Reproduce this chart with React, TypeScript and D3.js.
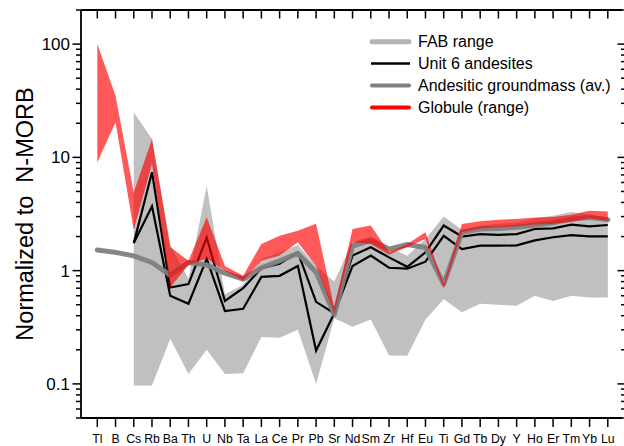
import React from "react";
import * as d3 from "d3";

const elements = ["Tl","B","Cs","Rb","Ba","Th","U","Nb","Ta","La","Ce","Pr","Pb","Sr","Nd","Sm","Zr","Hf","Eu","Ti","Gd","Tb","Dy","Y","Ho","Er","Tm","Yb","Lu"];

const fabUpper = [null, null, 25, 14.5, 1.7, 0.85, 5.6, 0.62, 0.75, 1.27, 1.45, 1.68, 1.1, 0.8, 1.8, 2.0, 1.6, 1.35, 1.9, 3.0, 2.3, 2.5, 2.6, 2.65, 2.9, 3.05, 3.3, 3.15, 2.95];
const fabLower = [null, null, 0.097, 0.097, 0.25, 0.122, 0.2, 0.122, 0.124, 0.26, 0.255, 0.3, 0.1, 0.38, 0.32, 0.37, 0.178, 0.177, 0.37, 0.56, 0.43, 0.51, 0.5, 0.49, 0.6, 0.54, 0.6, 0.58, 0.58];

const globuleUpper = [100, 35, 4.9, 14.5, 1.62, 1.22, 2.96, 1.1, 0.9, 1.72, 2.03, 2.25, 2.6, 0.47, 2.33, 2.5, 1.45, 1.72, 2.18, 0.76, 2.58, 2.73, 2.82, 2.86, 2.95, 2.98, 3.12, 3.38, 3.32];
const globuleLower = [9.0, 20.4, 2.3, 8.8, 0.71, 1.12, 1.28, 1.0, 0.82, 1.22, 1.36, 1.78, 1.1, 0.42, 1.78, 1.72, 1.38, 1.62, 1.9, 0.7, 2.18, 2.36, 2.41, 2.46, 2.55, 2.58, 2.7, 2.9, 2.76];

const groundmass = [1.52, 1.45, 1.35, 1.18, 0.91, 1.18, 1.12, 0.95, 0.84, 1.06, 1.22, 1.42, 0.97, 0.41, 1.65, 1.85, 1.55, 1.7, 1.6, 0.76, 2.18, 2.33, 2.36, 2.41, 2.52, 2.65, 2.85, 2.95, 2.82];

const unit6A = [null, null, 1.75, 7.4, 0.71, 0.76, 1.95, 0.54, 0.7, 1.05, 1.15, 1.45, 0.53, 0.42, 1.36, 1.61, 1.31, 1.08, 1.45, 2.5, 2.0, 2.1, 2.07, 2.1, 2.33, 2.36, 2.55, 2.46, 2.53];
const unit6B = [null, null, 1.75, 3.7, 0.6, 0.51, 1.27, 0.44, 0.46, 0.88, 0.9, 1.1, 0.197, 0.42, 1.1, 1.36, 1.06, 1.04, 1.2, 2.03, 1.55, 1.66, 1.66, 1.67, 1.85, 1.97, 2.06, 2.01, 2.01];

const yMajorLabels = [0.1, 1, 10, 100];

const legendItems = [
  { label: "FAB range", color: "#b4b4b4", width: 5, cap: "round" },
  { label: "Unit 6 andesites", color: "#000000", width: 2.5, cap: "butt" },
  { label: "Andesitic groundmass (av.)", color: "#808080", width: 4, cap: "round" },
  { label: "Globule (range)", color: "#ff0000", width: 4, cap: "round" },
];

const FONT = "'Liberation Sans', Arial, Helvetica, sans-serif";

export default function App() {
  const W = 624, H = 446;
  const left = 81, right = 622, top = 10, bottom = 418;
  const x = d3.scalePoint<string>().domain(elements).range([97.3, 607.8]);
  const y = d3.scaleLog().domain([0.05, 200]).range([bottom, top]);

  const px = (i: number) => x(elements[i]) as number;

  const area = (hi: (number | null)[], lo: (number | null)[]) =>
    d3.area<number>()
      .defined((i) => hi[i] != null && lo[i] != null)
      .x((i) => px(i))
      .y0((i) => y(lo[i] as number))
      .y1((i) => y(hi[i] as number))(elements.map((_, i) => i)) || "";

  const line = (v: (number | null)[]) =>
    d3.line<number>()
      .defined((i) => v[i] != null)
      .x((i) => px(i))
      .y((i) => y(v[i] as number))(elements.map((_, i) => i)) || "";

  const yTicks = y.ticks();
  const isMajor = (t: number) => Math.abs(Math.log10(t) - Math.round(Math.log10(t))) < 1e-9;
  const rightX = 626;

  return (
    <svg width={W} height={H} style={{ position: "absolute", left: 0, top: 0, background: "#fff" }} fontFamily={FONT}>
      {/* FAB range */}
      <path d={area(fabUpper, fabLower)} fill="#c0c0c0" stroke="none" />
      {/* Unit 6 andesites */}
      <path d={line(unit6A)} fill="none" stroke="#000" strokeWidth={2.2} strokeLinejoin="miter" />
      <path d={line(unit6B)} fill="none" stroke="#000" strokeWidth={2.2} strokeLinejoin="miter" />
      {/* Groundmass */}
      <path d={line(groundmass)} fill="none" stroke="#7f7f7f" strokeWidth={5} strokeLinejoin="round" strokeLinecap="round" opacity={0.95} />
      {/* Globule range */}
      <path d={area(globuleUpper, globuleLower)} fill="#ff0000" fillOpacity={0.65} stroke="none" />

      {/* frame */}
      <line x1={left} x2={left} y1={top} y2={bottom} stroke="#000" strokeWidth={1.8} />
      <line x1={left} x2={right} y1={top} y2={top} stroke="#000" strokeWidth={1.8} />
      <line x1={left} x2={right} y1={bottom} y2={bottom} stroke="#000" strokeWidth={1.8} />

      {/* y ticks */}
      {yTicks.map((t, k) => {
        const yy = y(t);
        const len = isMajor(t) ? 8.5 : 5;
        return (
          <g key={k}>
            <line x1={left - len} x2={left} y1={yy} y2={yy} stroke="#000" strokeWidth={1.5} />
            <line x1={rightX - len} x2={rightX} y1={yy} y2={yy} stroke="#000" strokeWidth={1.5} />
          </g>
        );
      })}
      {yMajorLabels.map((t) => (
        <text key={t} x={70} y={y(t)} dy="0.36em" textAnchor="end" fontSize={17} fill="#000">
          {String(t)}
        </text>
      ))}

      {/* x ticks */}
      {elements.map((e) => {
        const xx = x(e) as number;
        return (
          <g key={e}>
            <line x1={xx} x2={xx} y1={bottom} y2={bottom + 9} stroke="#000" strokeWidth={1.5} />
            <line x1={xx} x2={xx} y1={top} y2={top + 8.5} stroke="#000" strokeWidth={1.5} />
            <text x={xx} y={443} textAnchor="middle" fontSize={12.3} fill="#000">{e}</text>
          </g>
        );
      })}

      {/* y title */}
      <text transform={`translate(33,${(top + bottom) / 2}) rotate(-90)`} textAnchor="middle" fontSize={23.5} fill="#000" style={{ whiteSpace: "pre" }}>
        {"Normalized to  N-MORB"}
      </text>

      {/* legend */}
      {legendItems.map((it, k) => {
        const ly = 41.7 + k * 21.9;
        return (
          <g key={it.label}>
            <line x1={it.cap === "round" ? 372 : 371} x2={it.cap === "round" ? 409 : 410} y1={ly} y2={ly} stroke={it.color} strokeWidth={it.width} strokeLinecap={it.cap as any} />
            <text x={418} y={ly} dy="0.36em" fontSize={16} fill="#000">{it.label}</text>
          </g>
        );
      })}
    </svg>
  );
}
